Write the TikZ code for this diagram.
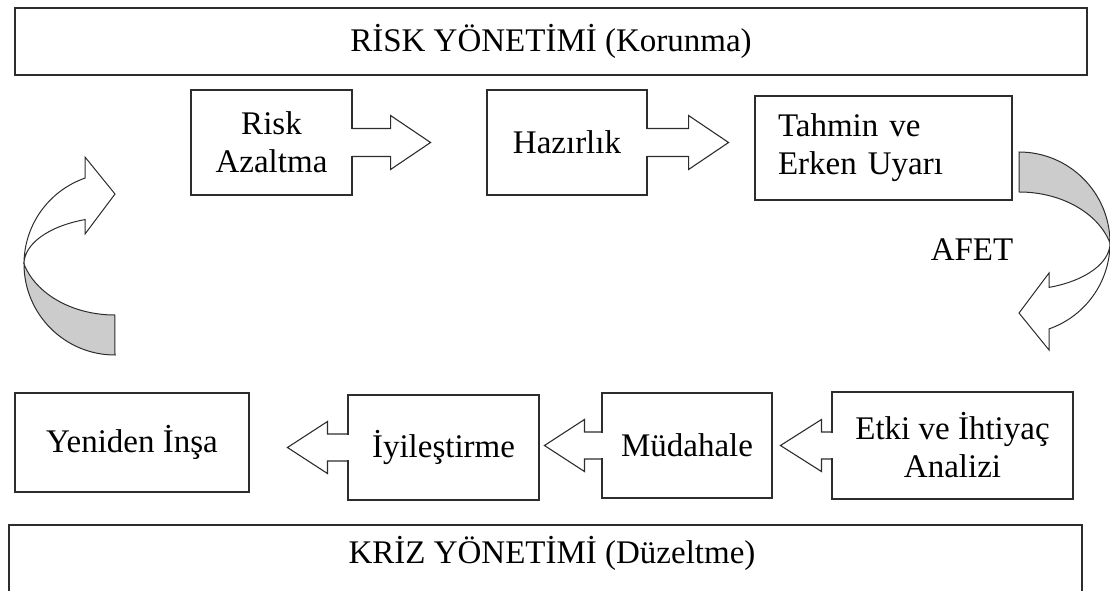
\documentclass[tikz,border=0pt]{standalone}
\usepackage{fontspec}
\setmainfont{Liberation Serif}
\usetikzlibrary{calc}
\definecolor{arrowgray}{RGB}{204,204,204}
\definecolor{lineblack}{RGB}{45,45,45}
\begin{document}
\begin{tikzpicture}[x=1pt,y=-1pt,
  box/.style={draw=lineblack, line width=1.1pt, rectangle, inner sep=0pt,
    font=\fontsize{33}{38}\selectfont, align=center},
  lbl/.style={inner sep=0pt, font=\fontsize{33}{38}\selectfont},
  blk/.style={draw=lineblack, line width=1.1pt, line join=miter},
  gap/.style={fill=white},
  curv/.style={draw=lineblack, line width=1pt},
  curvedarrow/.pic={
    \filldraw[curv, fill=arrowgray] (0,0)
      arc[start angle=-90, end angle=0, radius=91]
      arc[start angle=-16.36, end angle=-90, x radius=94.8, y radius=71] -- cycle;
    \filldraw[curv, fill=white] (91,91)
      arc[start angle=0, end angle=70.75, radius=91]
      -- (30,198) -- (0,161) -- (30,121) -- (30,135.4)
      arc[start angle=70.75, end angle=0, x radius=91, y radius=47] -- cycle;
  }
]
\useasboundingbox (0,0) rectangle (1110,591);
\clip (0,0) rectangle (1110,591);

% top band
\node[box, minimum width=1072pt, minimum height=67pt] (risk) at (551,41.5) {RİSK YÖNETİMİ (Korunma)};

% top row
\node[box, minimum width=161pt, minimum height=105pt] (ra) at (271.5,142.5) {Risk\\Azaltma};
\node[box, minimum width=160pt, minimum height=105pt] (hz) at (567,142.5) {Hazırlık};
\node[box, minimum width=257pt, minimum height=104pt, text width=211pt, align=left] (tu) at (883.5,148) {Tahmin ve\\Erken Uyarı};

\fill[gap] ($(ra.east)+(-1.2,-13.4)$) rectangle ($(ra.east)+(1.2,13.4)$);
\draw[blk] ($(ra.east)+(-0.55,-14)$) -- ++(38.55,0) -- ++(0,-13) -- ++(40,27) -- ++(-40,27) -- ++(0,-13) -- ++(-38.55,0);
\fill[gap] ($(hz.east)+(-1.2,-13.4)$) rectangle ($(hz.east)+(1.2,13.4)$);
\draw[blk] ($(hz.east)+(-0.55,-14)$) -- ++(41.55,0) -- ++(0,-13) -- ++(40,27) -- ++(-40,27) -- ++(0,-13) -- ++(-41.55,0);

\node[lbl] (afet) at (972,250) {AFET};

% curved arrows
\pic at (1019,152) {curvedarrow};
\pic[rotate=180] at (115,355) {curvedarrow};

% bottom row
\node[box, minimum width=234pt, minimum height=99pt] (yi) at (132,442.5) {Yeniden İnşa};
\node[box, minimum width=191pt, minimum height=105pt] (iy) at (443.5,447.5) {İyileştirme};
\node[box, minimum width=170pt, minimum height=105pt] (md) at (687,445.5) {Müdahale};
\node[box, minimum width=241pt, minimum height=107pt] (ek) at (952.5,445.5) {Etki ve İhtiyaç\\Analizi};

\fill[gap] ($(iy.west)+(-1.2,-12.9)$) rectangle ($(iy.west)+(1.2,12.9)$);
\draw[blk] ($(iy.west)+(0.55,-13.5)$) -- ++(-20.55,0) -- ++(0,-12.5) -- ++(-40,26) -- ++(40,26) -- ++(0,-12.5) -- ++(20.55,0);
\fill[gap] ($(md.west)+(-1.2,-12.9)$) rectangle ($(md.west)+(1.2,12.9)$);
\draw[blk] ($(md.west)+(0.55,-13.5)$) -- ++(-17.55,0) -- ++(0,-12.5) -- ++(-40,26) -- ++(40,26) -- ++(0,-12.5) -- ++(17.55,0);
\fill[gap] ($(ek.west)+(-1.2,-12.9)$) rectangle ($(ek.west)+(1.2,12.9)$);
\draw[blk] ($(ek.west)+(0.55,-13.5)$) -- ++(-10.55,0) -- ++(0,-12.5) -- ++(-41,26) -- ++(41,26) -- ++(0,-12.5) -- ++(10.55,0);

% bottom band
\draw[draw=lineblack, line width=1.1pt] (9,525) rectangle (1082,640);
\node[lbl] (kriz) at (552,553) {KRİZ YÖNETİMİ (Düzeltme)};
\end{tikzpicture}
\end{document}
